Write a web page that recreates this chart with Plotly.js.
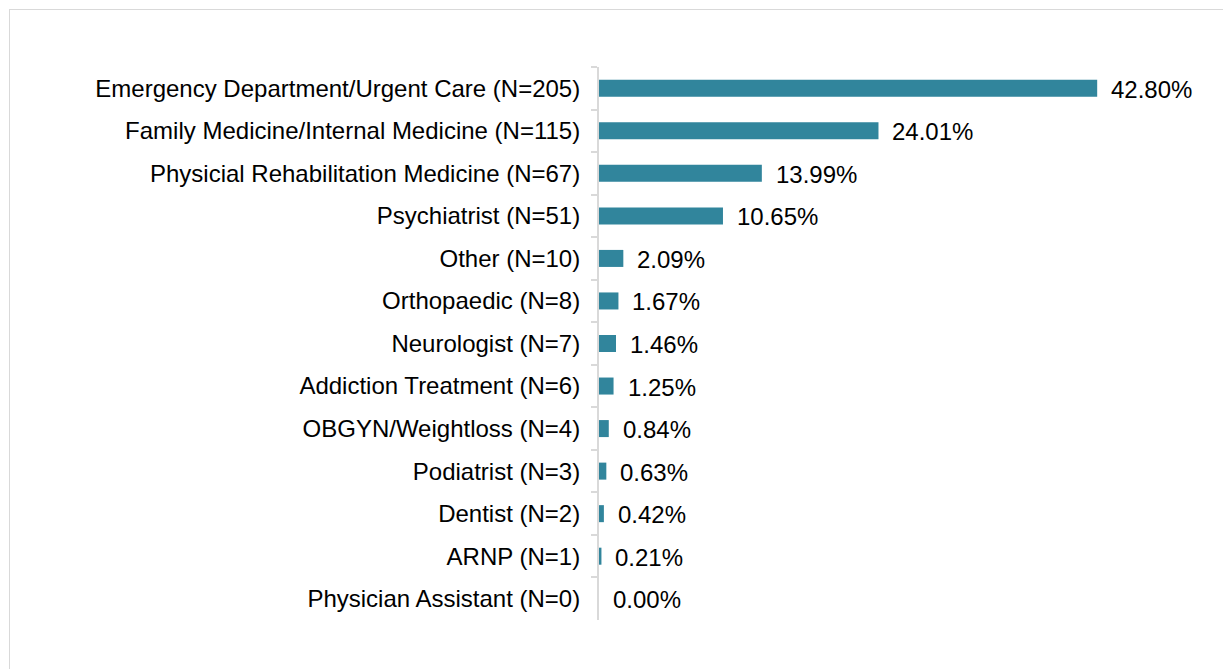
<!DOCTYPE html>
<html>
<head>
<meta charset="utf-8">
<script src="https://cdn.plot.ly/plotly-3.0.1.min.js"></script>
<style>
  html, body { margin: 0; padding: 0; background: #fff; overflow: hidden; }
  #chart { width: 1223px; height: 669px; position: absolute; left: 0; top: 0; }
  #frame { position: absolute; left: 9px; top: 9px; width: 1400px; height: 900px;
           border: 1px solid #d9d9d9; pointer-events: none; }
</style>
</head>
<body>
<div id="chart"></div>
<div id="frame"></div>
<script>
const categories = [
  "Emergency Department/Urgent Care (N=205)",
  "Family Medicine/Internal Medicine (N=115)",
  "Physicial Rehabilitation Medicine (N=67)",
  "Psychiatrist (N=51)",
  "Other (N=10)",
  "Orthopaedic (N=8)",
  "Neurologist (N=7)",
  "Addiction Treatment (N=6)",
  "OBGYN/Weightloss (N=4)",
  "Podiatrist (N=3)",
  "Dentist (N=2)",
  "ARNP (N=1)",
  "Physician Assistant (N=0)"
];
const percents = [42.80, 24.01, 13.99, 10.65, 2.09, 1.67, 1.46, 1.25, 0.84, 0.63, 0.42, 0.21, 0.00];
const valueLabels = percents.map(v => v.toFixed(2) + "%");

const font = { family: "Arial, 'Liberation Sans', sans-serif", size: 24, color: "#000" };

const trace = {
  type: "bar",
  orientation: "h",
  x: percents,
  y: categories,
  marker: { color: "#31859C" },
  hoverinfo: "x+y"
};

const annotations = categories.map((c, i) => ({
  x: percents[i], y: c, xref: "x", yref: "y",
  text: valueLabels[i], showarrow: false,
  xanchor: "left", yanchor: "middle", xshift: 12, yshift: -1,
  font: font
}));

const layout = {
  width: 1223, height: 669,
  margin: { l: 599, r: 42, t: 67, b: 49, pad: 0 },
  paper_bgcolor: "rgba(0,0,0,0)",
  plot_bgcolor: "rgba(0,0,0,0)",
  showlegend: false,
  bargap: 0.6,
  font: font,
  xaxis: { range: [0, 50], visible: false, fixedrange: true },
  yaxis: {
    type: "category", autorange: "reversed",
    showline: true, linecolor: "#d9d9d9", linewidth: 2,
    ticks: "outside", tickson: "boundaries", ticklen: 6, tickcolor: "#d9d9d9", tickwidth: 2,
    ticklabelstandoff: 12,
    showgrid: false, zeroline: false,
    tickfont: font
  },
  annotations: annotations
};

Plotly.newPlot("chart", [trace], layout, { displayModeBar: false, staticPlot: true });
</script>
</body>
</html>
